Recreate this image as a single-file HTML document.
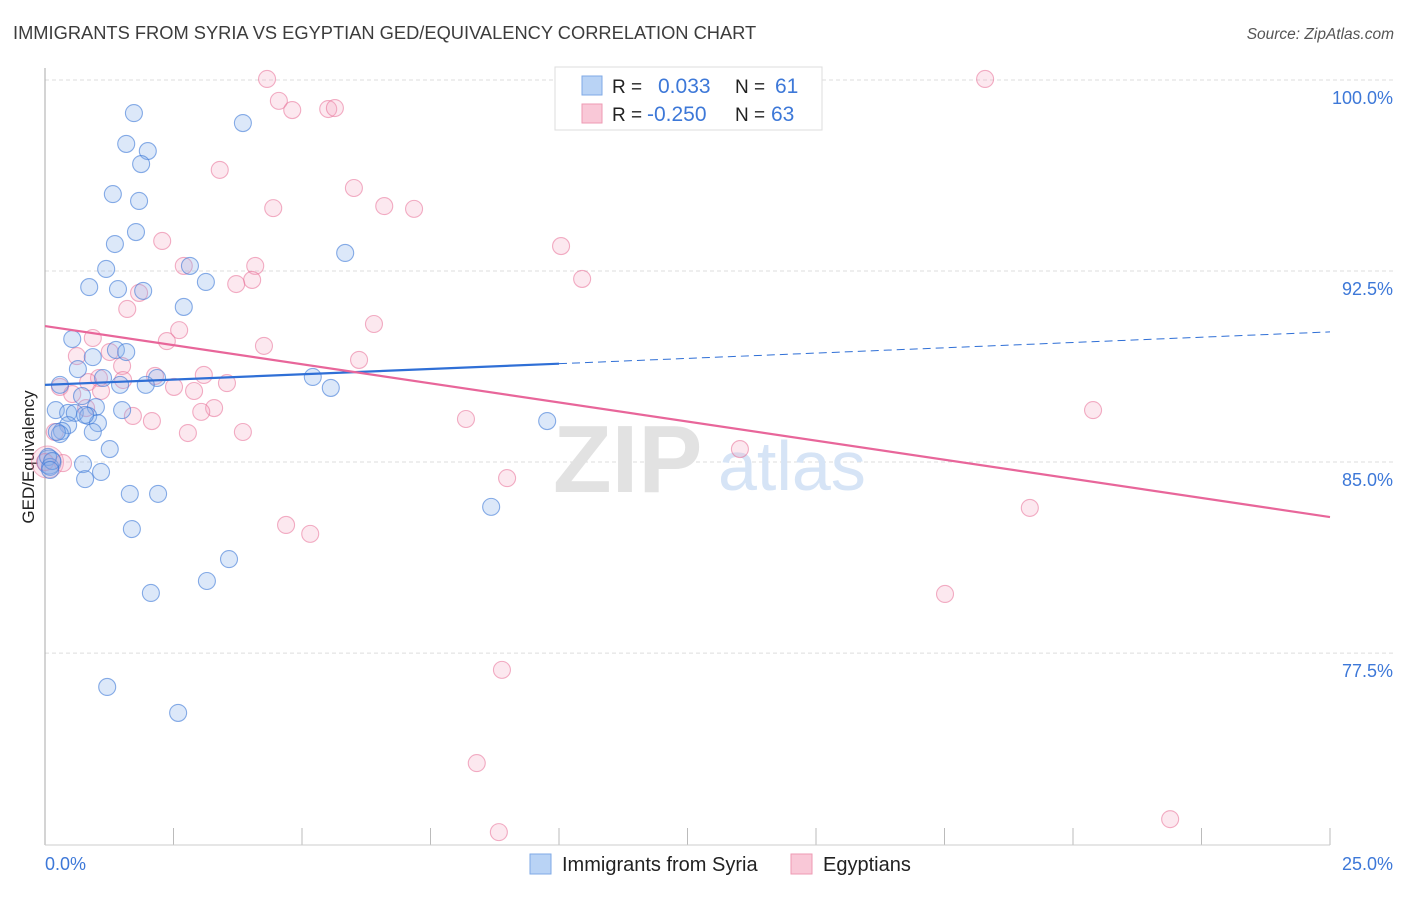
<!DOCTYPE html>
<html><head><meta charset="utf-8"><style>
body{margin:0;background:#fff;font-family:"Liberation Sans",sans-serif;}
svg text{font-family:"Liberation Sans",sans-serif;}
</style></head><body>
<svg id="chart" width="1406" height="892" xmlns="http://www.w3.org/2000/svg">
<text x="13" y="39" font-size="18.3" fill="#3c3c3c">IMMIGRANTS FROM SYRIA VS EGYPTIAN GED/EQUIVALENCY CORRELATION CHART</text>
<text x="1394" y="39" font-size="15.5" fill="#555" text-anchor="end" font-style="italic">Source: ZipAtlas.com</text>
<g id="grid"></g>
<text x="553" y="492" font-size="96" font-family="Liberation Serif" fill="#e2e2e2" font-weight="bold">ZIP</text>
<text x="718" y="490" font-size="70" fill="#d6e4f6">atlas</text>
<line x1="45" y1="68" x2="45" y2="845" stroke="#aaa" stroke-width="1"/>
<line x1="45" y1="845" x2="1330" y2="845" stroke="#ccc" stroke-width="1"/>
<text transform="translate(34,457) rotate(-90)" font-size="17" fill="#222" text-anchor="middle">GED/Equivalency</text>
<text x="45" y="870" font-size="18" fill="#3d78d8">0.0%</text>
<text x="1393" y="870" font-size="18" fill="#3d78d8" text-anchor="end">25.0%</text>
<g id="points"></g>
<g id="trends"></g>
<g>
<rect x="555" y="67" width="267" height="63" fill="#fff" stroke="#ddd"/>
<rect x="582" y="76" width="20" height="19" fill="#b9d3f5" stroke="#7fa9e6"/>
<rect x="582" y="104" width="20" height="19" fill="#f9c8d7" stroke="#ee9ab3"/>
<text x="612" y="93" font-size="19" fill="#222">R = </text><text x="658" y="93" font-size="21" fill="#3d78d8">0.033</text>
<text x="735" y="93" font-size="19" fill="#222">N = </text><text x="775" y="93" font-size="21" fill="#3d78d8">61</text>
<text x="612" y="121" font-size="19" fill="#222">R = </text><text x="647" y="121" font-size="21" fill="#3d78d8">-0.250</text>
<text x="735" y="121" font-size="19" fill="#222">N = </text><text x="771" y="121" font-size="21" fill="#3d78d8">63</text>
</g>
<g>
<rect x="530" y="854" width="21" height="20" fill="#b9d3f5" stroke="#7fa9e6"/>
<text x="562" y="871" font-size="20" fill="#222">Immigrants from Syria</text>
<rect x="791" y="854" width="21" height="20" fill="#f9c8d7" stroke="#ee9ab3"/>
<text x="823" y="871" font-size="20" fill="#222">Egyptians</text>
</g>
</svg>
<script>
const yTicks=[100,92.5,85,77.5];
const yTickLabels=["100.0%","92.5%","85.0%","77.5%"];
const xTicks=[0,2.5,5,7.5,10,12.5,15,17.5,20,22.5,25];
const syriaX=[1.73,1.58,2.00,1.87,3.85,1.32,1.83,1.77,1.36,1.19,0.86,1.42,1.91,2.82,3.13,2.70,5.84,0.53,0.93,1.38,1.58,0.64,1.13,2.18,1.96,1.46,5.21,5.56,0.29,0.72,0.99,1.50,0.21,0.45,0.58,0.84,1.03,0.45,0.33,0.29,0.93,1.26,9.77,0.06,0.10,0.14,0.74,1.09,0.78,1.65,2.20,1.69,8.68,3.58,3.15,2.06,1.21,2.59,0.23,0.10,0.78];
const syriaY=[98.70,97.49,97.21,96.70,98.31,95.52,95.25,94.03,93.56,92.58,91.87,91.79,91.72,92.70,92.07,91.09,93.21,89.83,89.12,89.40,89.32,88.65,88.30,88.30,88.03,88.03,88.34,87.91,88.03,87.59,87.16,87.04,87.04,86.93,86.93,86.81,86.53,86.45,86.22,86.10,86.18,85.51,86.61,85.20,84.81,85.04,84.92,84.61,84.33,83.75,83.75,82.37,83.24,81.19,80.33,79.86,76.17,75.15,86.18,84.69,86.85];
const egyX=[4.32,18.29,4.55,4.81,5.51,5.64,3.40,6.01,4.44,6.60,7.18,2.28,10.04,2.70,4.09,4.03,3.72,10.45,1.83,1.60,6.40,2.61,0.93,2.37,4.26,0.62,1.26,6.11,1.50,1.05,0.84,1.52,3.09,2.14,2.51,2.90,3.54,0.29,0.53,1.09,3.29,3.04,1.71,2.08,8.19,20.39,2.78,3.85,0.80,13.52,0.19,0.00,0.35,8.99,19.16,4.69,5.16,17.51,8.89,8.40,8.83,21.89];
const egyY=[100.04,100.04,99.18,98.82,98.86,98.90,96.47,95.76,94.97,95.05,94.94,93.68,93.48,92.70,92.70,92.15,91.99,92.19,91.64,91.01,90.42,90.18,89.87,89.75,89.56,89.16,89.32,89.01,88.77,88.30,88.14,88.22,88.42,88.38,87.95,87.79,88.10,87.95,87.67,87.79,87.12,86.97,86.81,86.61,86.69,87.04,86.14,86.18,87.12,85.51,86.18,85.00,84.96,84.37,83.20,82.53,82.18,79.82,76.84,73.18,70.47,70.98];
const syriaTrend=[88.03,90.11];
const syriaSolidEnd=10;
const egyTrend=[90.34,82.84];
const NS="http://www.w3.org/2000/svg";
const X=v=>45+v*51.4;
const Y=v=>80+(100-v)*25.47;
function mk(tag,attrs,parent){const e=document.createElementNS(NS,tag);for(const k in attrs)e.setAttribute(k,attrs[k]);parent.appendChild(e);return e;}
const grid=document.getElementById('grid');
yTicks.forEach((t,i)=>{
  const l=mk('line',{x1:45,x2:1393,y1:Y(t),y2:Y(t),stroke:'#ddd','stroke-dasharray':'4,3'},grid);
  
  
  const tx=mk('text',{x:1393,y:Y(t)+24,'font-size':18,fill:'#3d78d8','text-anchor':'end'},grid);
  tx.textContent=yTickLabels[i];
  
  
});
xTicks.forEach(t=>{
  const l=mk('line',{x1:X(t),x2:X(t),y1:828,y2:845,stroke:'#bbb'},grid);
  
  
});
const pts=document.getElementById('points');
const big1=mk('circle',{cx:X(0.05),cy:Y(85),r:16,fill:'rgba(244,160,188,0.25)',stroke:'rgba(232,110,150,0.5)'},pts);


const big2=mk('circle',{cx:X(0.08),cy:Y(85),r:12,fill:'rgba(120,165,230,0.35)',stroke:'rgba(60,120,215,0.6)'},pts);


egyX.forEach((x,i)=>{
  const c=mk('circle',{cx:X(x),cy:Y(egyY[i]),r:8.5,fill:'rgba(244,165,192,0.25)',stroke:'rgba(232,110,150,0.55)','stroke-width':1.1},pts);
  
  
});
syriaX.forEach((x,i)=>{
  const c=mk('circle',{cx:X(x),cy:Y(syriaY[i]),r:8.5,fill:'rgba(140,180,235,0.3)',stroke:'rgba(60,120,215,0.6)','stroke-width':1.1},pts);
  
  
});
const tr=document.getElementById('trends');
const sy=x=>syriaTrend[0]+(syriaTrend[1]-syriaTrend[0])*x/25;
const a=mk('line',{x1:X(0),y1:Y(sy(0)),x2:X(syriaSolidEnd),y2:Y(sy(syriaSolidEnd)),stroke:'#2f6fd6','stroke-width':2.2},tr);


const b=mk('line',{x1:X(syriaSolidEnd),y1:Y(sy(syriaSolidEnd)),x2:X(25),y2:Y(sy(25)),stroke:'#2f6fd6','stroke-width':1,'stroke-dasharray':'8,5'},tr);


const c=mk('line',{x1:X(0),y1:Y(egyTrend[0]),x2:X(25),y2:Y(egyTrend[1]),stroke:'#e8669a','stroke-width':2.2},tr);


</script>
</body></html>
